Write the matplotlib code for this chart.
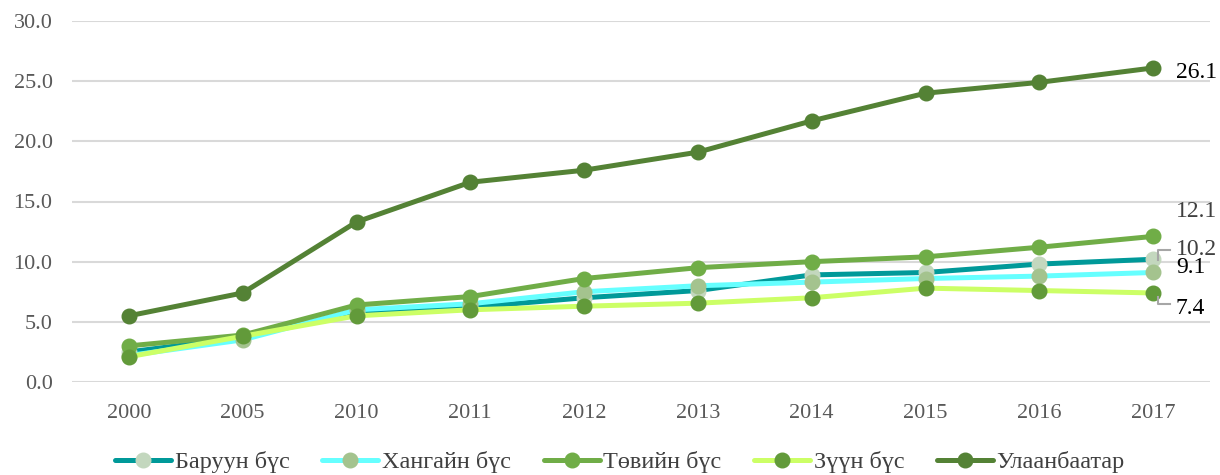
import matplotlib
matplotlib.use("Agg")
import matplotlib.pyplot as plt

years = ["2000", "2005", "2010", "2011", "2012", "2013", "2014", "2015", "2016", "2017"]
series_names = ["Баруун бүс", "Хангайн бүс", "Төвийн бүс", "Зүүн бүс", "Улаанбаатар"]
baruun = [2.5, 3.7, 5.8, 6.2, 7.0, 7.6, 8.9, 9.1, 9.8, 10.2]
khangai = [2.2, 3.5, 6.0, 6.5, 7.5, 8.0, 8.3, 8.6, 8.8, 9.1]
tuv = [3.0, 3.9, 6.4, 7.1, 8.6, 9.5, 10.0, 10.4, 11.2, 12.1]
zuun = [2.1, 3.8, 5.5, 6.0, 6.3, 6.55, 7.0, 7.8, 7.6, 7.4]
ub = [5.5, 7.4, 13.3, 16.6, 17.6, 19.1, 21.7, 24.0, 24.9, 26.1]
yticks = [0, 5, 10, 15, 20, 25, 30]

values = [baruun, khangai, tuv, zuun, ub]
line_colors = ["#009999", "#66FFFF", "#70AD47", "#CCFF66", "#548235"]
marker_colors = ["#C3D7BE", "#A4C38E", "#70AD47", "#629A3A", "#548235"]

plt.rcParams['font.family'] = ['Liberation Serif', 'DejaVu Serif']

fig = plt.figure(figsize=(12.2, 4.75), dpi=100)
ax = fig.add_axes([72/1220, 93/475, 1138/1220, 361/475])

x = list(range(len(years)))
handles = []
for name, vals, lc, mc in zip(series_names, values, line_colors, marker_colors):
    h, = ax.plot(x, vals, color=lc, lw=3.6, marker='o', markersize=10.5,
                 markerfacecolor=mc, markeredgecolor=mc, label=name,
                 solid_capstyle='round', zorder=3)
    handles.append(h)

ax.set_xlim(-0.5, len(years) - 0.5)
ax.set_ylim(0, 30)
ax.set_yticks(yticks)
ax.set_yticklabels([f"{v:.1f}" for v in yticks])
ax.set_xticks(x)
ax.set_xticklabels(years)
ax.tick_params(axis='both', length=0, labelsize=16, colors='#595959')
ax.tick_params(axis='y', pad=14)
ax.tick_params(axis='x', pad=16)
ax.grid(axis='y', color='#D9D9D9', lw=1.5, zorder=0)
for s in ax.spines.values():
    s.set_visible(False)

# data labels
lab_x = len(years) - 1 + 0.2
ax.text(lab_x, 25.75, f"{ub[-1]:.1f}", fontsize=17, va='center', ha='left', color='black')
ax.text(lab_x, 14.2, f"{tuv[-1]:.1f}", fontsize=17, va='center', ha='left', color='#404040')
ax.text(lab_x, 11.05, f"{baruun[-1]:.1f}", fontsize=17, va='center', ha='left', color='#404040')
ax.text(lab_x, 9.5, f"{khangai[-1]:.1f}", fontsize=17, va='center', ha='left', color='black')
ax.text(lab_x, 6.1, f"{zuun[-1]:.1f}", fontsize=17, va='center', ha='left', color='black')

# leader lines
lx0 = len(years) - 1 + 0.04
lx1 = len(years) - 1 + 0.15
ax.plot([lx0, lx0, lx1], [baruun[-1] - 0.1, 10.95, 10.95], color='#A6A6A6', lw=1.5, zorder=4)
ax.plot([lx0, lx0, lx1], [zuun[-1] - 0.3, 6.45, 6.45], color='#A6A6A6', lw=1.5, zorder=4)

leg = fig.legend(handles=handles, loc='center', bbox_to_anchor=(620/1220, 13/475),
                 ncol=5, frameon=False, fontsize=17.5, handlelength=2.3,
                 columnspacing=1.35, handletextpad=0.15, borderpad=0)
for t in leg.get_texts():
    t.set_color('#404040')

fig.savefig("out.png", dpi=100, facecolor='white')
